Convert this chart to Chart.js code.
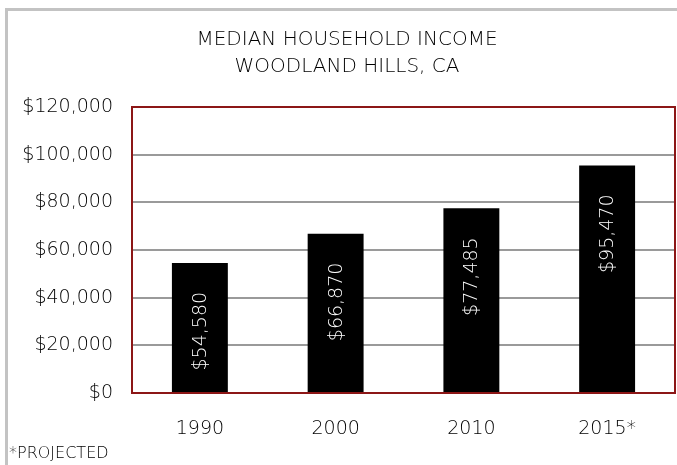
<!DOCTYPE html>
<html>
<head>
<meta charset="utf-8">
<title>Median Household Income – Woodland Hills, CA</title>
<script src="https://cdn.jsdelivr.net/npm/chart.js@4.4.1/dist/chart.umd.min.js"></script>
<style>
  html, body { margin: 0; padding: 0; background: #fff; overflow: hidden; }
  #wrap { position: relative; width: 677px; height: 465px; overflow: hidden; background: #fff; }
  #frame { position: absolute; left: 5px; top: 8px; width: 720px; height: 520px;
           border: 3px solid #c3c3c3; box-sizing: border-box; }
  #chart { position: absolute; left: 0; top: 0; }
</style>
</head>
<body>
<div id="wrap">
  <div id="frame"></div>
  <canvas id="chart" width="677" height="465"></canvas>
</div>
<script>
// Median household income by year (2015 is a projection)
const years = ['1990', '2000', '2010', '2015*'];
const income = [54580, 66870, 77485, 95470];
const valueLabels = ['$54,580', '$66,870', '$77,485', '$95,470'];
const titleLines = ['MEDIAN HOUSEHOLD INCOME', 'WOODLAND HILLS, CA'];
const footnote = '*PROJECTED';
const yTicks = [0, 20000, 40000, 60000, 80000, 100000, 120000];

const FONT = "'DejaVu Sans', 'Open Sans', sans-serif";
const TEXT = '#000000';

// Title, footnote, plot frame and rotated value labels
const decorations = {
  id: 'decorations',
  afterDatasetsDraw(chart) {
    const { ctx, chartArea: a } = chart;
    ctx.save();
    // dark red frame around the plot area
    ctx.strokeStyle = '#8c1616';
    ctx.lineWidth = 2;
    ctx.strokeRect(a.left, a.top, a.right - a.left, a.bottom - a.top);

    // values written vertically inside each bar
    const meta = chart.getDatasetMeta(0);
    ctx.fillStyle = '#ffffff';
    ctx.font = '200 19px ' + FONT;
    ctx.textAlign = 'right';
    ctx.textBaseline = 'middle';
    meta.data.forEach((bar, i) => {
      ctx.save();
      ctx.translate(bar.x + 1, bar.y + 29);
      ctx.rotate(-Math.PI / 2);
      ctx.fillText(valueLabels[i], 0, 0);
      ctx.restore();
    });
    ctx.restore();
  },
  afterDraw(chart) {
    const { ctx } = chart;
    ctx.save();
    ctx.fillStyle = TEXT;
    ctx.textAlign = 'center';
    ctx.textBaseline = 'middle';
    ctx.font = '200 20px ' + FONT;
    ctx.fillText(titleLines[0], 347, 40);
    ctx.fillText(titleLines[1], 347, 67);
    ctx.textAlign = 'left';
    ctx.font = '200 16px ' + FONT;
    ctx.fillText(footnote, 9, 454);
    ctx.restore();
  }
};

new Chart(document.getElementById('chart'), {
  type: 'bar',
  data: {
    labels: years,
    datasets: [{
      data: income,
      backgroundColor: '#000000',
      borderWidth: 0,
      barPercentage: 0.412,
      categoryPercentage: 1.0
    }]
  },
  options: {
    responsive: false,
    animation: false,
    events: [],
    layout: { padding: { left: 0, top: 107, right: 2, bottom: 0 } },
    plugins: {
      legend: { display: false },
      title: { display: false },
      tooltip: { enabled: false }
    },
    scales: {
      x: {
        grid: { display: false, drawTicks: false },
        border: { display: false },
        ticks: {
          color: TEXT,
          font: { family: FONT, size: 19, weight: '200' },
          padding: 25
        },
        afterFit(scale) { scale.height = 72; }
      },
      y: {
        min: 0,
        max: 120000,
        afterBuildTicks(scale) { scale.ticks = yTicks.map(v => ({ value: v })); },
        grid: { color: '#9a9a9a', lineWidth: 2, drawTicks: false },
        border: { display: false },
        ticks: {
          color: TEXT,
          font: { family: FONT, size: 19, weight: '200' },
          padding: 19,
          callback: v => '$' + Number(v).toLocaleString('en-US')
        },
        afterFit(scale) { scale.width = 132; }
      }
    }
  },
  plugins: [decorations]
});
</script>
</body>
</html>
